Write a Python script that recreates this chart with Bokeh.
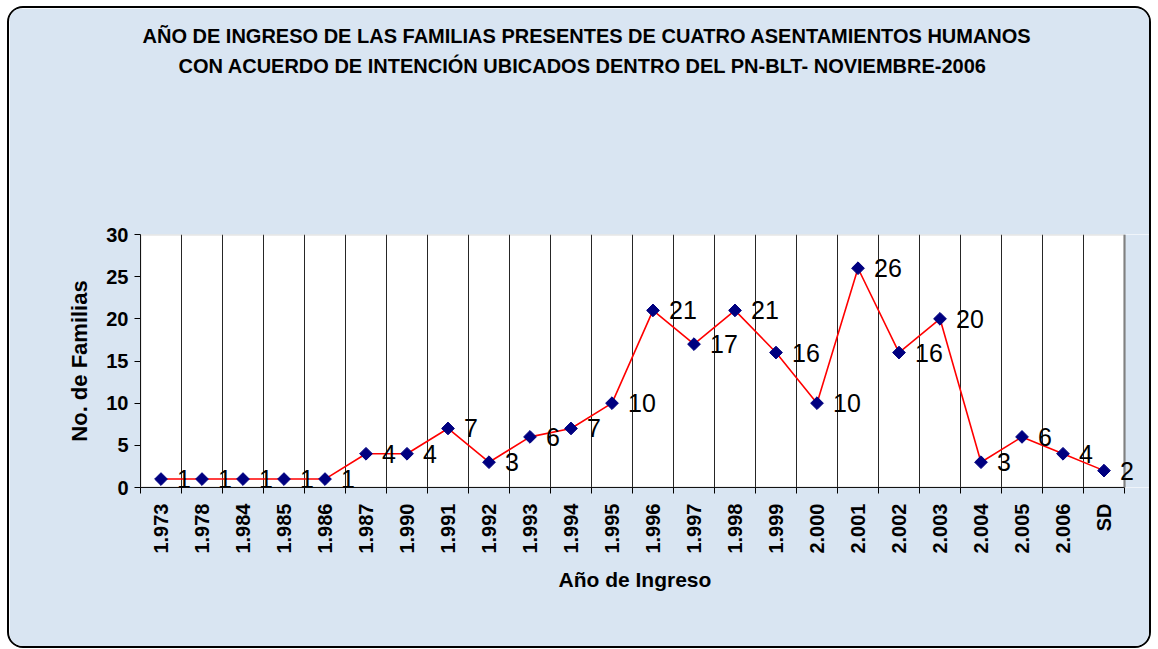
import numpy as np
from bokeh.plotting import figure
from bokeh.models import (Range1d, FixedTicker, Title, ColumnDataSource, LabelSet,
                          BoxAnnotation, Span)
from bokeh.core.properties import value
from bokeh.embed import file_html
from bokeh.resources import INLINE

categories = ["1.973", "1.978", "1.984", "1.985", "1.986", "1.987", "1.990", "1.991",
              "1.992", "1.993", "1.994", "1.995", "1.996", "1.997", "1.998", "1.999",
              "2.000", "2.001", "2.002", "2.003", "2.004", "2.005", "2.006", "SD"]
familias = [1, 1, 1, 1, 1, 4, 4, 7, 3, 6, 7, 10, 21, 17, 21, 16, 10, 26, 16, 20, 3, 6, 4, 2]
y_ticks = [0, 5, 10, 15, 20, 25, 30]

title_1 = "AÑO DE INGRESO DE LAS FAMILIAS PRESENTES DE CUATRO ASENTAMIENTOS HUMANOS"
title_2 = "CON ACUERDO DE INTENCIÓN UBICADOS DENTRO DEL PN-BLT- NOVIEMBRE-2006"
x_label = "Año de Ingreso"
y_label = "No. de Familias"

n = len(categories)
xc = np.arange(n) + 0.5
boundaries = list(range(n + 1))
YMAX = 30

src = ColumnDataSource(dict(x=xc, y=familias, lbl=[str(v) for v in familias]))

W, H = 1144, 642
CAT_W = 41                      # pixels per category
FL, FT, FH = 131, 226, 253
FW = W - FL                     # frame runs to the right edge so end labels are not clipped
x_end = FW / CAT_W
p = figure(width=W, height=H, output_backend="svg", toolbar_location=None,
           x_range=Range1d(0, x_end), y_range=Range1d(0, YMAX),
           min_border_left=FL, min_border_right=0,
           min_border_top=FT, min_border_bottom=H - FT - FH)

BG = "#d9e5f2"
p.border_fill_color = BG
p.background_fill_color = "white"
p.outline_line_color = None
p.styles = {"border": "2px solid black", "border-radius": "16px", "overflow": "hidden",
            "margin-left": "7px", "margin-top": "6px"}

# area right of the plot box shows the chart background
p.add_layout(BoxAnnotation(left=n, fill_color=BG, fill_alpha=1, line_color=None,
                           level="underlay"))
# plot box outline
p.add_layout(BoxAnnotation(left=0, right=n, bottom=0, top=YMAX, fill_color=None,
                           fill_alpha=0, line_color="#808080", line_width=2,
                           level="annotation"))
p.add_layout(Span(location=n, dimension="height", line_color="#808080", line_width=2,
                  level="annotation"))

FONT = "Liberation Sans"

# axes
xa = p.xaxis[0]
xa.bounds = (0, n)
xa.ticker = FixedTicker(ticks=list(xc), minor_ticks=boundaries)
xa.major_label_overrides = {float(x): c for x, c in zip(xc, categories)}
xa.major_tick_line_color = None
xa.minor_tick_line_color = "black"
xa.minor_tick_out = 6
xa.minor_tick_in = 0
xa.axis_line_color = "black"
xa.major_label_orientation = np.pi / 2
xa.major_label_text_font = FONT
xa.major_label_text_font_style = "bold"
xa.major_label_text_font_size = "20px"
xa.major_label_text_color = "black"
xa.major_label_standoff = 10

ya = p.yaxis[0]
ya.ticker = FixedTicker(ticks=y_ticks, minor_ticks=[])
ya.major_tick_out = 6
ya.major_tick_in = 0
ya.axis_line_color = "black"
ya.major_tick_line_color = "black"
ya.major_label_text_font = FONT
ya.major_label_text_font_style = "bold"
ya.major_label_text_font_size = "20px"
ya.major_label_text_color = "black"
ya.major_label_standoff = 6
ya.axis_label = y_label
ya.axis_label_text_font = FONT
ya.axis_label_text_font_style = "bold"
ya.axis_label_text_font_size = "22px"
ya.axis_label_text_color = "black"
ya.axis_label_standoff = 11

p.xgrid.ticker = FixedTicker(ticks=boundaries[1:-1], minor_ticks=[])
p.xgrid.grid_line_color = "black"
p.xgrid.grid_line_alpha = 0.85
p.xgrid.grid_line_width = 1
p.xgrid.bounds = (0, YMAX)
p.ygrid.grid_line_color = None

p.line("x", "y", source=src, line_color="red", line_width=1.6)
p.scatter("x", "y", source=src, marker="square", angle=np.pi / 4, size=9,
          fill_color="#000080", line_color="#000080")
p.add_layout(LabelSet(x="x", y="y", text="lbl", source=src, x_offset=16, y_offset=0,
                      text_font=value(FONT), text_font_size=value("25px"),
                      text_baseline=value("middle"), text_align=value("left"),
                      text_color=value("black")))

p.title = None
title_style = dict(text_font=FONT, text_font_style="bold", text_font_size="20px",
                   text_color="black", align="left")
# spacer between the title block and the plot frame
p.add_layout(Title(text=" ", standoff=131, **title_style), "above")
p.add_layout(Title(text=title_2, offset=38, standoff=6, **title_style), "above")
p.add_layout(Title(text=title_1, offset=2, standoff=6, **title_style), "above")

# x axis title, centred under the plot box
p.add_layout(Title(text=x_label, offset=418, standoff=18, text_font=FONT,
                   text_font_style="bold", text_font_size="21px", text_color="black",
                   align="left"), "below")

open("out.html", "w").write(file_html(p, INLINE))
